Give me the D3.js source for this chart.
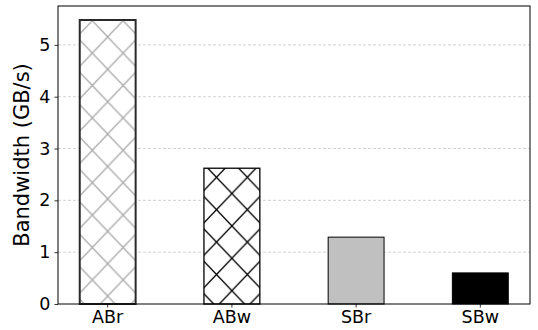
<!DOCTYPE html>
<html><head><meta charset="utf-8">
<script src="https://cdn.jsdelivr.net/npm/d3@7"></script>
<style>body{margin:0;background:#fff}svg{display:block}text{font-family:"DejaVu Sans",sans-serif}</style>
</head><body>
<script>
const categories = ["ABr", "ABw", "SBr", "SBw"];
const values = [5.48, 2.62, 1.29, 0.60];
const yTicks = [0, 1, 2, 3, 4, 5];
const yLabel = "Bandwidth (GB/s)";

const W = 538, H = 330;
const m = {left: 58, right: 8, top: 6, bottom: 26};
const svg = d3.select("body").append("svg").attr("width", W).attr("height", H);
const defs = svg.append("defs");

const x = d3.scaleBand().domain(categories).range([m.left, W - m.right]).paddingInner(0.55).paddingOuter(0.175);
const y = d3.scaleLinear().domain([0, 5.75]).range([H - m.bottom, m.top]);

// grid
svg.append("g").selectAll("line").data(yTicks.filter(d => d > 0)).join("line")
  .attr("x1", m.left).attr("x2", W - m.right)
  .attr("y1", d => y(d)).attr("y2", d => y(d))
  .attr("stroke", "#c8c8c8").attr("stroke-width", 0.8).attr("stroke-dasharray", "3,2");

const styles = [
  {fill: "#fff", hatch: "#aaaaaa", edge: "#2a2a2a", ew: 2},
  {fill: "#fff", hatch: "#000", edge: "#000", ew: 1.3},
  {fill: "#c0c0c0", hatch: null, edge: "#000", ew: 1.0},
  {fill: "#000", hatch: null, edge: "#000", ew: 1.0}
];
const pw = 30.8, ph = 32.4;
styles.forEach((s, i) => {
  if (!s.hatch) return;
  const p = defs.append("pattern").attr("id", "h" + i).attr("patternUnits", "userSpaceOnUse")
    .attr("width", pw).attr("height", ph)
    .attr("x", x(categories[i]) + x.bandwidth() / 2).attr("y", i === 0 ? 101.7 : 258.3);
  p.append("rect").attr("width", pw).attr("height", ph).attr("fill", s.fill);
  p.append("path").attr("d", `M0,0L${pw},${ph}M${pw},0L0,${ph}M${-pw},0L${pw},${2*ph}M${2*pw},0L0,${2*ph}`)
    .attr("stroke", s.hatch).attr("stroke-width", 1.3).attr("fill", "none");
});

svg.append("g").selectAll("rect").data(categories).join("rect")
  .attr("x", d => x(d)).attr("width", x.bandwidth())
  .attr("y", (d, i) => y(values[i])).attr("height", (d, i) => y(0) - y(values[i]))
  .attr("fill", (d, i) => styles[i].hatch ? `url(#h${i})` : styles[i].fill)
  .attr("stroke", (d, i) => styles[i].edge).attr("stroke-width", (d, i) => styles[i].ew);

// frame
svg.append("rect").attr("x", m.left).attr("y", m.top)
  .attr("width", W - m.left - m.right).attr("height", H - m.top - m.bottom)
  .attr("fill", "none").attr("stroke", "#000").attr("stroke-width", 1);

const yAxis = svg.append("g").attr("transform", `translate(${m.left},0)`)
  .call(d3.axisLeft(y).tickValues(yTicks).tickSize(3.5).tickPadding(4).tickFormat(d3.format("d")));
const xAxis = svg.append("g").attr("transform", `translate(0,${H - m.bottom})`)
  .call(d3.axisBottom(x).tickSize(3.5).tickPadding(3));
[yAxis, xAxis].forEach(a => {
  a.select(".domain").remove();
  a.selectAll("text").attr("font-size", 17.5).attr("fill", "#000").style("font-family", "DejaVu Sans");
  a.selectAll("line").attr("stroke", "#000").attr("stroke-width", 0.8);
});

svg.append("text").attr("transform", `translate(29,${(m.top + H - m.bottom) / 2}) rotate(-90)`)
  .attr("text-anchor", "middle").attr("font-size", 21).text(yLabel);
</script>
</body></html>
